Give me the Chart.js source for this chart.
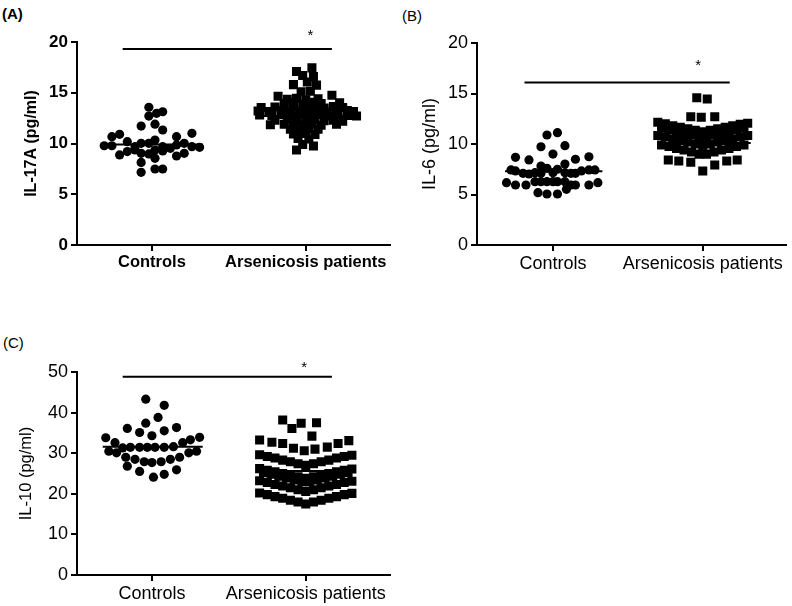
<!DOCTYPE html>
<html>
<head>
<meta charset="utf-8">
<script src="https://cdn.jsdelivr.net/npm/chart.js@4.4.1/dist/chart.umd.min.js"></script>
<style>
  body { margin: 0; background: #fff; width: 792px; height: 606px; position: relative; overflow: hidden; font-family: "Liberation Sans", Arial, sans-serif; }
  .panel { position: absolute; }
  .tag { position: absolute; font-size: 15px; color: #000; }
</style>
</head>
<body>
<div class="tag" style="left:2px;top:5px;font-weight:bold;">(A)</div>
<div class="tag" style="left:402px;top:7px;">(B)</div>
<div class="tag" style="left:3px;top:334px;">(C)</div>
<div class="panel" style="left:0;top:0;"><canvas id="chartA" width="396" height="290"></canvas></div>
<div class="panel" style="left:400px;top:0;"><canvas id="chartB" width="392" height="290"></canvas></div>
<div class="panel" style="left:0;top:300px;"><canvas id="chartC" width="396" height="306"></canvas></div>
<script>
// Dot plots of serum cytokines, controls vs arsenicosis patients
const groupLabels = ['Controls', 'Arsenicosis patients'];

// ---- (A) IL-17A ----
const aCtrlY = [13.57, 12.97, 13.13, 12.7, 11.72, 11.9, 11.33, 10.67, 10.9, 10.67, 11.0,
  9.78, 9.78, 10.18, 9.69, 10.02, 10.02, 10.34, 9.69, 9.52, 9.85, 10.02, 9.69, 9.62,
  8.87, 9.2, 9.36, 9.03, 8.97, 9.36, 9.26, 8.77, 9.03, 8.14, 8.54, 7.16, 7.49, 7.49];
const aCtrlJit = [-0.02, 0.03, 0.07, -0.02, -0.07, 0.02, 0.07, -0.26, -0.21, 0.16, 0.26,
  -0.31, -0.26, -0.16, -0.11, -0.07, -0.02, 0.02, 0.07, 0.12, 0.16, 0.21, 0.26, 0.31,
  -0.21, -0.16, -0.11, -0.07, -0.02, 0.02, 0.07, 0.16, 0.21, -0.07, 0.02, -0.07, 0.02, 0.07];
const aArsY = [17.45, 17.1, 16.7, 16.6, 16.05, 15.8, 15.75, 15.1, 15.15,
  14.65, 14.75, 14.35, 14.45, 14.3, 14.4,
  13.95, 14.0, 13.9, 14.05, 13.95, 14.0,
  13.55, 13.6, 13.5, 13.65, 13.55, 13.6, 13.5, 13.65, 13.55,
  13.2, 13.15, 13.25, 13.1, 13.2, 13.15, 13.25, 13.1, 13.2, 13.25, 13.15,
  12.8, 12.75, 12.85, 12.7, 12.8, 12.75, 12.85, 12.7, 12.8, 12.75, 12.7,
  12.3, 12.35, 12.25, 12.3, 12.35, 12.25, 12.3, 12.2,
  11.85, 11.9, 11.8, 11.85, 11.9, 11.8, 11.9,
  11.4, 11.35, 11.45, 11.4, 10.95, 11.0, 10.9, 10.5, 10.45, 9.9, 9.75, 9.35];
const aArsJit = [0.04, -0.06, -0.02, 0.05, 0.01, -0.08, 0.07, -0.03, 0.03,
  -0.18, 0.17, -0.12, -0.06, 0.0, 0.08,
  -0.14, -0.08, -0.02, 0.04, 0.1, 0.22,
  -0.29, -0.2, -0.14, -0.08, 0.0, 0.06, 0.12, 0.18, 0.24,
  -0.31, -0.24, -0.16, -0.1, -0.04, 0.02, 0.08, 0.14, 0.2, 0.27, 0.31,
  -0.3, -0.22, -0.15, -0.09, -0.03, 0.03, 0.09, 0.15, 0.21, 0.28, 0.33,
  -0.2, -0.12, -0.06, 0.0, 0.06, 0.12, 0.18, 0.24,
  -0.23, -0.14, -0.08, -0.02, 0.04, 0.1, 0.2,
  -0.1, -0.04, 0.02, 0.08, -0.08, 0.0, 0.06, -0.05, 0.02, -0.02, 0.05, -0.06];
const aMeans = [9.9, 12.7];

// ---- (B) IL-6 ----
const bCtrlY = [10.89, 11.12, 9.73, 9.83, 9.0,
  8.68, 8.42, 8.02, 8.49, 8.74, 7.82, 7.59, 7.5,
  7.43, 7.33, 7.1, 7.03, 7.16, 7.1, 7.16, 7.16, 7.1, 7.1, 7.33, 7.43, 7.43,
  6.17, 5.94, 5.94, 6.27, 6.27, 6.27, 6.27, 6.27, 6.27, 5.94, 5.94, 5.94, 6.17,
  5.18, 5.05, 5.05, 5.51];
const bCtrlJit = [-0.04, 0.03, -0.08, 0.08, 0.0,
  -0.25, -0.16, 0.08, 0.15, 0.24, -0.08, -0.04, 0.03,
  -0.28, -0.25, -0.2, -0.16, -0.12, -0.08, 0.0, 0.08, 0.12, 0.15, 0.19, 0.24, 0.28,
  -0.31, -0.25, -0.18, -0.12, -0.08, -0.04, 0.0, 0.03, 0.08, 0.12, 0.15, 0.24, 0.3,
  -0.1, -0.04, 0.03, 0.09];
const bArsY = [14.58, 14.46, 12.7, 12.64, 12.7,
  12.15, 12.0, 11.8, 11.65, 11.5, 11.35, 11.2, 11.35, 11.5, 11.65, 11.8, 11.95, 12.05,
  11.55, 11.4, 11.2, 11.05, 10.9, 10.7, 10.7, 10.9, 11.05, 11.2, 11.4, 11.55,
  10.85, 10.7, 10.5, 10.35, 10.2, 10.0, 9.85, 10.0, 10.2, 10.35, 10.5, 10.7, 10.85,
  9.9, 9.75, 9.55, 9.4, 9.2, 9.0, 9.0, 9.2, 9.4, 9.55, 9.75, 9.9,
  8.42, 8.32, 8.19, 7.33, 7.92, 8.32, 8.42];
const bArsJit = [-0.04, 0.03, -0.08, -0.01, 0.08,
  -0.3, -0.25, -0.2, -0.15, -0.1, -0.05, 0.0, 0.05, 0.1, 0.15, 0.2, 0.25, 0.3,
  -0.275, -0.225, -0.175, -0.125, -0.075, -0.025, 0.025, 0.075, 0.125, 0.175, 0.225, 0.275,
  -0.3, -0.25, -0.2, -0.15, -0.1, -0.05, 0.0, 0.05, 0.1, 0.15, 0.2, 0.25, 0.3,
  -0.275, -0.225, -0.175, -0.125, -0.075, -0.025, 0.025, 0.075, 0.125, 0.175, 0.225, 0.275,
  -0.23, -0.16, -0.08, 0.0, 0.08, 0.16, 0.23];
const bMeans = [7.3, 10.1];

// ---- (C) IL-10 ----
const cCtrlY = [43.3, 41.8, 38.8, 37.4, 36.1, 35.1, 35.5, 36.3, 34.3,
  33.8, 33.9, 33.3, 32.6, 32.6,
  31.3, 31.45, 31.45, 31.45, 31.45, 31.45, 31.6,
  30.5, 30.1, 30.5, 30.1,
  29.0, 28.5, 27.9, 27.7, 27.9, 28.5, 29.0,
  26.8, 25.5, 24.1, 24.8, 25.9];
const cCtrlJit = [-0.04, 0.08, 0.04, -0.04, -0.16, -0.08, 0.08, 0.16, 0.0,
  -0.3, 0.31, 0.25, -0.24, 0.2,
  -0.19, -0.14, -0.08, -0.03, 0.02, 0.08, 0.14,
  -0.28, -0.23, 0.29, 0.24,
  -0.17, -0.11, -0.05, 0.0, 0.06, 0.12, 0.18,
  -0.16, -0.08, 0.01, 0.08, 0.16];
const cArsY = [38.2, 36.1, 37.4, 37.5, 34.2,
  33.25, 32.7, 32.4, 31.2, 30.6, 31.0, 31.5, 32.4, 33.1,
  29.6, 29.2, 28.8, 28.3, 27.9, 27.4, 27.0, 27.4, 27.9, 28.3, 28.8, 29.2, 29.5,
  26.2, 25.8, 25.4, 25.0, 24.6, 24.2, 23.8, 24.2, 24.6, 25.0, 25.4, 25.8, 26.1,
  25.2, 24.8, 24.3, 23.9, 23.4, 23.0, 23.0, 23.4, 23.9, 24.3, 24.8, 25.2,
  23.2, 22.8, 22.3, 21.9, 21.5, 21.0, 20.6, 21.0, 21.5, 21.9, 22.3, 22.8, 23.1,
  20.2, 19.8, 19.3, 18.9, 18.4, 18.0, 17.5, 18.0, 18.4, 18.9, 19.3, 19.8, 20.1];
const cArsJit = [-0.15, -0.09, -0.03, 0.07, 0.04,
  -0.3, -0.22, -0.15, -0.08, -0.01, 0.06, 0.14, 0.21, 0.28,
  -0.3, -0.25, -0.2, -0.15, -0.1, -0.05, 0.0, 0.05, 0.1, 0.15, 0.2, 0.25, 0.3,
  -0.3, -0.25, -0.2, -0.15, -0.1, -0.05, 0.0, 0.05, 0.1, 0.15, 0.2, 0.25, 0.3,
  -0.275, -0.225, -0.175, -0.125, -0.075, -0.025, 0.025, 0.075, 0.125, 0.175, 0.225, 0.275,
  -0.3, -0.25, -0.2, -0.15, -0.1, -0.05, 0.0, 0.05, 0.1, 0.15, 0.2, 0.25, 0.3,
  -0.3, -0.25, -0.2, -0.15, -0.1, -0.05, 0.0, 0.05, 0.1, 0.15, 0.2, 0.25, 0.3];
const cMeans = [31.6, 25.6];

// significance bar: [xStart, xEnd, y], star: [x, y]
const aSigBar = [-0.19, 1.17, 19.3], aStar = [1.03, 20.6];
const bSigBar = [-0.19, 1.18, 16.1], bStar = [0.97, 17.7];
const cSigBar = [-0.19, 1.17, 48.8], cStar = [0.99, 51.0];

// mean line half-spans per group [left, right]
const meanSpan = [[-0.32, 0.33], [-0.30, 0.32]];

const FONT = '"Liberation Sans", Arial, sans-serif';

function toPoints(cat, jit, ys) {
    return ys.map((y, i) => ({ x: cat + jit[i], y: y }));
}

const starPlugin = {
    id: 'star',
    afterDatasetsDraw(chart, args, opts) {
        const ctx = chart.ctx;
        const xs = chart.scales.x, ys = chart.scales.y;
        ctx.save();
        ctx.fillStyle = '#000';
        ctx.font = '15px ' + FONT;
        ctx.textAlign = 'center';
        ctx.textBaseline = 'middle';
        ctx.fillText('*', xs.getPixelForValue(opts.pos[0]), ys.getPixelForValue(opts.pos[1]));
        ctx.restore();
    }
};

function makePanel(id, cfg) {
    const lineDs = (pts) => ({
        type: 'line', data: pts, borderColor: '#000', borderWidth: 2,
        pointRadius: 0, showLine: true, fill: false, clip: false
    });
    new Chart(document.getElementById(id), {
        type: 'scatter',
        data: {
            datasets: [
                lineDs([{ x: meanSpan[0][0], y: cfg.means[0] }, { x: meanSpan[0][1], y: cfg.means[0] }]),
                lineDs([{ x: 1 + meanSpan[1][0], y: cfg.means[1] }, { x: 1 + meanSpan[1][1], y: cfg.means[1] }]),
                lineDs([{ x: cfg.sig[0], y: cfg.sig[2] }, { x: cfg.sig[1], y: cfg.sig[2] }]),
                {
                    data: toPoints(0, cfg.ctrlJit, cfg.ctrlY),
                    pointStyle: 'circle', pointRadius: 4.6,
                    backgroundColor: '#000', borderColor: '#000', borderWidth: 0
                },
                {
                    data: toPoints(1, cfg.arsJit, cfg.arsY),
                    pointStyle: 'rect', pointRadius: 6.4,
                    backgroundColor: '#000', borderColor: '#000', borderWidth: 0
                }
            ]
        },
        options: {
            responsive: false,
            animation: false,
            events: [],
            layout: { padding: { top: cfg.padTop, right: cfg.padRight, left: 0, bottom: 0 } },
            plugins: { legend: { display: false }, tooltip: { enabled: false }, star: { pos: cfg.star } },
            scales: {
                x: {
                    type: 'linear', min: cfg.xMin, max: cfg.xMax,
                    afterBuildTicks: (s) => { s.ticks = [{ value: 0 }, { value: 1 }]; },
                    afterFit: (s) => { s.height = cfg.xAxisH; },
                    ticks: {
                        color: '#000', padding: 2,
                        font: { family: FONT, size: cfg.labelSize, weight: cfg.bold ? 'bold' : 'normal' },
                        callback: (v) => groupLabels[v]
                    },
                    grid: { drawOnChartArea: false, drawTicks: true, tickLength: 6, color: '#000', lineWidth: 2 },
                    border: { display: true, color: '#000', width: 2 }
                },
                y: {
                    min: 0, max: cfg.yMax,
                    afterFit: (s) => { s.width = cfg.yAxisW; },
                    ticks: {
                        stepSize: cfg.yStep, color: '#000', padding: 3,
                        font: { family: FONT, size: cfg.tickSize, weight: cfg.bold ? 'bold' : 'normal' }
                    },
                    grid: { drawOnChartArea: false, drawTicks: true, tickLength: 6, color: '#000', lineWidth: 2 },
                    border: { display: true, color: '#000', width: 2 },
                    title: {
                        display: true, text: cfg.yTitle, color: '#000',
                        font: { family: FONT, size: cfg.titleSize, weight: cfg.bold ? 'bold' : 'normal' },
                        padding: { top: cfg.titlePad, bottom: 0 }
                    }
                }
            }
        },
        plugins: [starPlugin]
    });
}

makePanel('chartA', {
    ctrlY: aCtrlY, ctrlJit: aCtrlJit, arsY: aArsY, arsJit: aArsJit, means: aMeans,
    sig: aSigBar, star: aStar, yMax: 20, yStep: 5, yTitle: 'IL-17A (pg/ml)', bold: true,
    xMin: -0.487, xMax: 1.545, padTop: 42, padRight: 6, xAxisH: 45, yAxisW: 77,
    labelSize: 16.5, tickSize: 17, titleSize: 16, titlePad: 22
});
makePanel('chartB', {
    ctrlY: bCtrlY, ctrlJit: bCtrlJit, arsY: bArsY, arsJit: bArsJit, means: bMeans,
    sig: bSigBar, star: bStar, yMax: 20, yStep: 5, yTitle: 'IL-6 (pg/ml)', bold: false,
    xMin: -0.507, xMax: 1.553, padTop: 43, padRight: 2, xAxisH: 45, yAxisW: 77,
    labelSize: 18, tickSize: 18, titleSize: 18, titlePad: 19
});
makePanel('chartC', {
    ctrlY: cCtrlY, ctrlJit: cCtrlJit, arsY: cArsY, arsJit: cArsJit, means: cMeans,
    sig: cSigBar, star: cStar, yMax: 50, yStep: 10, yTitle: 'IL-10 (pg/ml)', bold: false,
    xMin: -0.487, xMax: 1.545, padTop: 72, padRight: 6, xAxisH: 31, yAxisW: 77,
    labelSize: 18, tickSize: 18, titleSize: 16.5, titlePad: 17
});
</script>
</body>
</html>
